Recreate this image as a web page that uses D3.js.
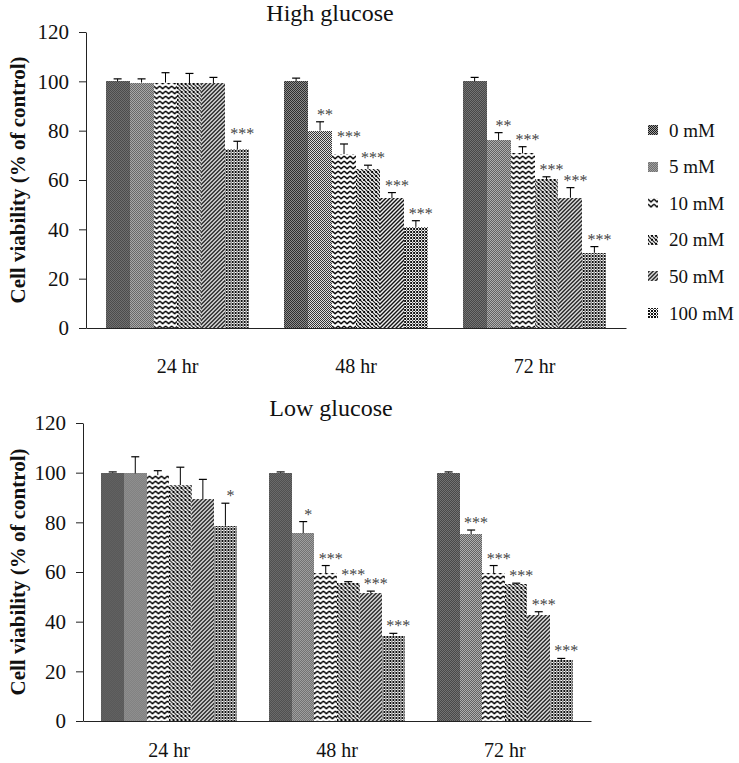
<!DOCTYPE html>
<html><head><meta charset="utf-8">
<script src="https://cdn.jsdelivr.net/npm/d3@7"></script>
<style>body{margin:0;background:#fff}svg{display:block}</style>
</head><body>
<svg id="chart" width="739" height="763"></svg>
<script>
const timepoints = ["24 hr", "48 hr", "72 hr"];
const concentrations = ["0 mM", "5 mM", "10 mM", "20 mM", "50 mM", "100 mM"];
const yTicks = [0, 20, 40, 60, 80, 100, 120];

const highMeans = [
  [100, 99.5, 99.5, 99.2, 99.2, 72.5],
  [100, 80, 70.5, 64.5, 52.6, 41],
  [100, 76.2, 70.8, 60.4, 52.8, 30.5]
];
const highErr = [
  [1, 1.5, 4, 4, 2.4, 3.2],
  [1.3, 3.6, 4.1, 1.5, 2.3, 2.5],
  [1.6, 3, 2.7, 0.9, 4.1, 2.5]
];
const highSig = [
  ["", "", "", "", "", "***"],
  ["", "**", "***", "***", "***", "***"],
  ["", "**", "***", "***", "***", "***"]
];

const lowMeans = [
  [100, 99.7, 99, 95, 89.3, 78.6],
  [100, 75.6, 59.5, 55.4, 51.4, 34.4],
  [100, 75.3, 59.5, 55, 42.7, 24.6]
];
const lowErr = [
  [0.3, 6.7, 1.8, 7.2, 8, 9.1],
  [0.3, 4.7, 3.1, 0.7, 0.9, 0.9],
  [0.3, 1.6, 3.1, 0.5, 1.3, 0.6]
];
const lowSig = [
  ["", "", "", "", "", "*"],
  ["", "*", "***", "***", "***", "***"],
  ["", "***", "***", "***", "***", "***"]
];

const FONT = "Liberation Serif, Times New Roman, serif";
const svg = d3.select("#chart");
const defs = svg.append("defs");

function pat(id, w, h, bg, draw) {
  const p = defs.append("pattern").attr("id", id)
    .attr("patternUnits", "userSpaceOnUse").attr("width", w).attr("height", h);
  p.append("rect").attr("width", w).attr("height", h).attr("fill", bg);
  draw(p);
}
function px(p, x, y, c, s) {
  p.append("rect").attr("x", x).attr("y", y).attr("width", s || 1).attr("height", s || 1).attr("fill", c || "#000");
}
// 0 mM: dark checker
pat("p0", 2, 2, "#a0a0a0", p => { px(p, 0, 0, "#1a1a1a"); px(p, 1, 1, "#1a1a1a"); });
// 5 mM: fine checker
pat("p1", 2, 2, "#fff", p => { px(p, 0, 0, "#111"); px(p, 1, 1, "#111"); });
// 10 mM: zigzag waves
pat("p2", 6, 5, "#fff", p => {
  p.append("path").attr("d", "M0,1 L3,3.8 L6,1").attr("fill", "none")
    .attr("stroke", "#000").attr("stroke-width", 1.4);
});
// 20 mM: diagonal weave
pat("p3", 4, 4, "#fff", p => {
  p.append("path").attr("d", "M-1,-1 L5,5 M-1,3 L1,5 M3,-1 L5,1").attr("stroke", "#000").attr("stroke-width", 1.1);
  px(p, 3, 0); px(p, 0, 3);
});
// 50 mM: diagonal lines
pat("p4", 4, 4, "#fff", p => {
  p.append("path").attr("d", "M-1,5 L5,-1 M-1,1 L1,-1 M3,5 L5,3").attr("stroke", "#000").attr("stroke-width", 1.4);
});
// 100 mM: coarser checker
pat("p5", 3, 3, "#fff", p => { px(p, 0, 0, "#111", 2); px(p, 2, 2, "#444"); });
const patIds = ["p0", "p1", "p2", "p3", "p4", "p5"];

const panels = [
  { title: "High glucose", means: highMeans, err: highErr, sig: highSig,
    yRange: [328, 32], xRange: [86, 626], titleX: 330, titleY: 21, labelCenter: 180,
    labelPad: 31, legend: true },
  { title: "Low glucose", means: lowMeans, err: lowErr, sig: lowSig,
    yRange: [721, 423], xRange: [83, 591], titleX: 331, titleY: 416, labelCenter: 572,
    labelPad: 22, legend: false }
];

panels.forEach(P => {
  const g = svg.append("g");
  const y = d3.scaleLinear().domain([0, 120]).range(P.yRange);
  const x0 = d3.scaleBand().domain(timepoints).range(P.xRange).paddingInner(0.195).paddingOuter(0.11);
  const x1 = d3.scaleBand().domain(concentrations).range([0, x0.bandwidth()]);

  const groups = g.selectAll("g.grp").data(timepoints).join("g")
    .attr("transform", d => `translate(${x0(d)},0)`);

  groups.each(function (t, ti) {
    const gg = d3.select(this);
    const rows = concentrations.map((c, ci) => ({ c, ci, v: P.means[ti][ci], e: P.err[ti][ci], s: P.sig[ti][ci] }));
    gg.selectAll("rect").data(rows).join("rect")
      .attr("x", d => x1(d.c)).attr("width", x1.bandwidth())
      .attr("y", d => y(d.v)).attr("height", d => y(0) - y(d.v))
      .attr("fill", d => `url(#${patIds[d.ci]})`)
      .attr("shape-rendering", "crispEdges");
    const cx = d => x1(d.c) + x1.bandwidth() / 2;
    gg.selectAll("line.eb").data(rows).join("line").attr("class", "eb")
      .attr("x1", cx).attr("x2", cx).attr("y1", d => y(d.v)).attr("y2", d => y(d.v + d.e))
      .attr("stroke", "#000").attr("stroke-width", 1);
    gg.selectAll("line.cap").data(rows).join("line").attr("class", "cap")
      .attr("x1", d => cx(d) - 4).attr("x2", d => cx(d) + 4)
      .attr("y1", d => y(d.v + d.e)).attr("y2", d => y(d.v + d.e))
      .attr("stroke", "#000").attr("stroke-width", 1.2);
    gg.selectAll("text.sig").data(rows.filter(d => d.s)).join("text").attr("class", "sig")
      .attr("x", d => cx(d) + 5).attr("y", d => y(d.v + d.e) - 2)
      .attr("text-anchor", "middle").style("font-family", FONT).style("font-size", "16px")
      .style("fill", "#444").text(d => d.s);
  });

  // y axis
  const ya = g.append("g").attr("transform", `translate(${P.xRange[0]},0)`)
    .call(d3.axisLeft(y).tickValues(yTicks).tickSize(7).tickSizeOuter(0).tickPadding(10));
  ya.selectAll("text").style("font-family", FONT).style("font-size", "21px").style("fill", "#111");
  ya.selectAll("path,line").attr("stroke", "#222");

  // x axis
  const xa = g.append("g").attr("transform", `translate(0,${P.yRange[0]})`)
    .call(d3.axisBottom(x0).tickSize(0).tickSizeOuter(0).tickPadding(P.labelPad));
  xa.select("path").attr("stroke", "#222");
  xa.selectAll("text").style("font-family", FONT).style("font-size", "20px").style("fill", "#111");

  // title
  svg.append("text").attr("x", P.titleX).attr("y", P.titleY)
    .attr("text-anchor", "middle").style("font-family", FONT).style("font-size", "24px")
    .style("fill", "#111").text(P.title);

  // y label
  svg.append("text").attr("transform", `translate(25,${P.labelCenter}) rotate(-90)`)
    .attr("text-anchor", "middle").style("font-family", FONT).style("font-size", "21px")
    .style("font-weight", "bold").style("fill", "#111").text("Cell viability (% of control)");

  if (P.legend) {
    const lg = svg.append("g");
    const items = lg.selectAll("g").data(concentrations).join("g")
      .attr("transform", (d, i) => `translate(648,${130 + i * 36.6})`);
    items.append("rect").attr("x", 0).attr("y", -5).attr("width", 10).attr("height", 10)
      .attr("fill", (d, i) => `url(#${patIds[i]})`).attr("shape-rendering", "crispEdges");
    items.append("text").attr("x", 21).attr("y", 6.5).style("font-family", FONT)
      .style("font-size", "19px").style("fill", "#111").text(d => d);
  }
});
</script>
</body></html>
